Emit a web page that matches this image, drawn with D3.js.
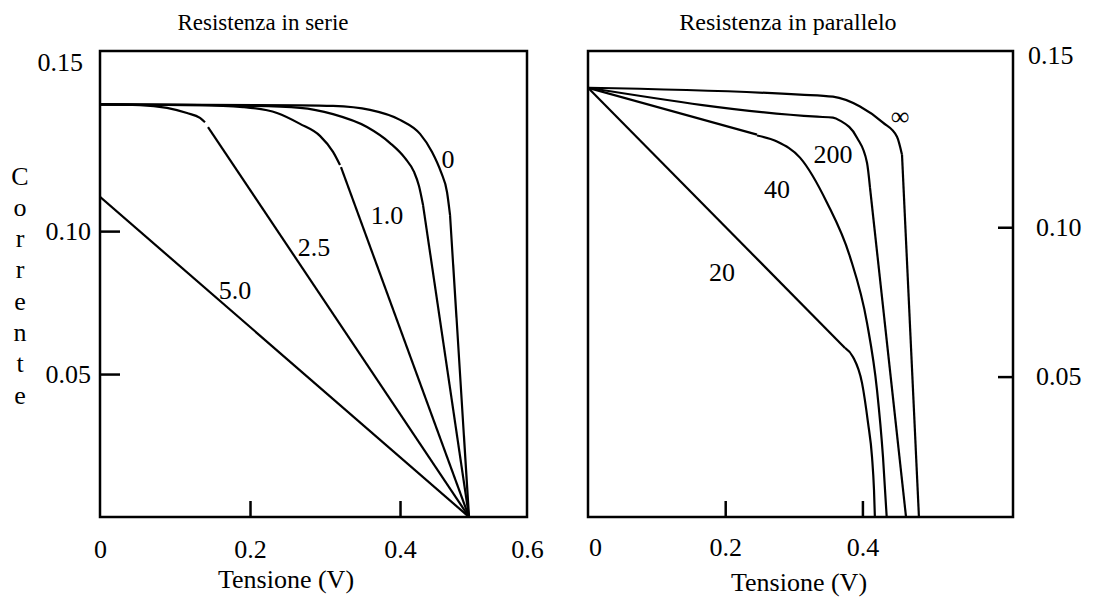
<!DOCTYPE html>
<html>
<head>
<meta charset="UTF-8">
<script src="https://d3js.org/d3.v7.min.js"></script>
<style>
    body { margin: 0; background: #fff; }
    svg { display: block; font-family: "Liberation Serif", "Times New Roman", serif; }
    .curve { fill: none; stroke: #000; stroke-width: 2.2; }
    .frame { fill: none; stroke: #000; stroke-width: 2.5; }
    .label { font-size: 26px; fill: #000; }
</style>
</head>
<body>
<svg width="1094" height="598"></svg>
<script>
// ---- data (tensione in V, corrente in A) ----
const xTickLabelsSerie = [0, 0.2, 0.4, 0.6];
const xTickLabelsPar = [0, 0.2, 0.4];
const xTickMarks = [0.2, 0.4];
const yTickLabels = [0.05, 0.10, 0.15];
const yTickMarks = [0.05, 0.10];

// left panel: series resistance, each curve = list of drawn segments
const serie50 = [[[0, 0.112], [0.492, 0]]];
const serie25 = [
    [[0, 0.1443], [0.0533, 0.1441], [0.0893, 0.1431], [0.116, 0.1413], [0.1333, 0.1396], [0.14, 0.1381]],
    [[0.144, 0.1364], [0.492, 0]]
];
const serie10 = [
    [[0, 0.1443], [0.1333, 0.1441], [0.1907, 0.1434], [0.236, 0.1413], [0.2667, 0.1375], [0.2933, 0.1333], [0.3107, 0.1277], [0.32, 0.1231]],
    [[0.3213, 0.1224], [0.492, 0]]
];
const serie05 = [
    [[0, 0.1443], [0.2, 0.1438], [0.2667, 0.1431], [0.3107, 0.1409], [0.356, 0.1364], [0.3867, 0.1308], [0.4067, 0.1255], [0.4187, 0.1207], [0.4253, 0.1158], [0.4307, 0.1091]],
    [[0.4307, 0.1091], [0.492, 0]]
];
const serie0 = [
    [[0, 0.1443], [0.2667, 0.1440], [0.3107, 0.1438], [0.36, 0.1424], [0.40, 0.1389], [0.4267, 0.1340], [0.4427, 0.1277], [0.4547, 0.1206], [0.4627, 0.1136], [0.4667, 0.1056]],
    [[0.4667, 0.1056], [0.492, 0]]
];
const serieLabels = [
    {text: "5.0", v: 0.18, i: 0.0794},
    {text: "2.5", v: 0.2853, i: 0.0941},
    {text: "1.0", v: 0.3827, i: 0.1056},
    {text: "0", v: 0.464, i: 0.1249}
];

// right panel: parallel resistance
const par20 = [
    [[0, 0.1467], [0.3746, 0.0596]],
    [[0.3746, 0.0596], [0.3863, 0.0566], [0.3994, 0.0479], [0.4082, 0.0345], [0.414, 0.0231], [0.4169, 0.012], [0.4186, 0]]
];
const par40 = [
    [[0, 0.1467], [0.2464, 0.1310]],
    [[0.2464, 0.1307], [0.2755, 0.1287], [0.309, 0.1233], [0.3484, 0.1082], [0.3819, 0.0901], [0.4067, 0.0680], [0.4213, 0.0455], [0.43, 0.0231], [0.4362, 0]]
];
const par200 = [
    [[0, 0.1467], [0.3338, 0.1370], [0.3571, 0.1367], [0.3673, 0.1357], [0.3921, 0.1300], [0.4067, 0.1216], [0.4111, 0.1132]],
    [[0.4111, 0.1132], [0.465, 0]]
];
const parInf = [
    [[0, 0.1467], [0.309, 0.1444], [0.3571, 0.1437], [0.3965, 0.1404], [0.43, 0.1350], [0.4504, 0.1303], [0.4577, 0.1243]],
    [[0.4577, 0.1243], [0.483, 0]]
];
const parLabels = [
    {text: "\u221e", v: 0.4548, i: 0.137},
    {text: "200", v: 0.3571, i: 0.1243},
    {text: "40", v: 0.2755, i: 0.1126},
    {text: "20", v: 0.1953, i: 0.0848}
];

// ---- chart ----
const svg = d3.select("svg");
svg.append("rect").attr("width", 1094).attr("height", 598).attr("fill", "#fff");

const xL = d3.scaleLinear().domain([0, 0.5693]).range([100, 527]).clamp(true);
const yL = d3.scaleLinear().domain([0, 0.163]).range([517, 51]);
const xR = d3.scaleLinear().domain([0, 0.6195]).range([588, 1013]);
const yR = d3.scaleLinear().domain([0.003, 0.159]).range([517, 51]);

function styleAxis(g) {
    g.attr("font-size", 26).attr("font-family", null);
    g.select(".domain").remove();
    g.selectAll("line").attr("stroke-width", 2.5);
}

function drawPanel(id, x, y, curves, labels) {
    const [x0, x1] = x.range();
    const [y1, y0] = y.range();
    const g = svg.append("g");

    svg.append("clipPath").attr("id", id)
        .append("rect").attr("x", x0).attr("y", y0).attr("width", x1 - x0).attr("height", y1 - y0);

    const line = d3.line()
        .x(d => x(d[0]))
        .y(d => y(d[1]))
        .curve(d3.curveMonotoneX);

    const cg = g.append("g").attr("clip-path", `url(#${id})`);
    curves.forEach(c => c.forEach(seg => {
        cg.append("path").attr("class", "curve").attr("d", line(seg));
    }));

    g.selectAll(".lbl").data(labels).enter().append("text")
        .attr("class", "label")
        .attr("x", d => x(d.v))
        .attr("y", d => y(d.i))
        .attr("text-anchor", "middle")
        .attr("dominant-baseline", "central")
        .text(d => d.text);

    // inner x tick marks
    g.append("g")
        .attr("transform", `translate(0,${y1})`)
        .call(d3.axisBottom(x).tickValues(xTickMarks).tickSizeInner(-16).tickSizeOuter(0).tickFormat(""))
        .call(styleAxis);

    g.append("rect").attr("class", "frame")
        .attr("x", x0).attr("y", y0).attr("width", x1 - x0).attr("height", y1 - y0);
    return g;
}

// left panel
const gl = drawPanel("clipL", xL, yL, [serie50, serie25, serie10, serie05, serie0], serieLabels);
gl.append("g")
    .attr("transform", "translate(0,517)")
    .call(d3.axisBottom(xL).tickValues(xTickLabelsSerie).tickSize(0).tickPadding(23)
        .tickFormat(d => d === 0 ? "0" : d3.format(".1f")(d)))
    .call(styleAxis);
gl.append("g")
    .attr("transform", "translate(100,0)")
    .call(d3.axisLeft(yL).tickValues(yTickMarks).tickSizeInner(-20).tickSizeOuter(0).tickFormat(""))
    .call(styleAxis);
gl.append("g")
    .attr("transform", "translate(100,0)")
    .call(d3.axisLeft(yL).tickValues(yTickLabels).tickSize(0).tickPadding(9).tickFormat(d3.format(".2f")))
    .call(styleAxis)
    .call(g => g.selectAll(".tick text").filter(d => d === 0.15).attr("y", -26).attr("x", -17));

// right panel
const gr = drawPanel("clipR", xR, yR, [par20, par40, par200, parInf], parLabels);
gr.append("g")
    .attr("transform", "translate(0,517)")
    .call(d3.axisBottom(xR).tickValues(xTickLabelsPar).tickSize(0).tickPadding(21)
        .tickFormat(d => d === 0 ? "0" : d3.format(".1f")(d)))
    .call(styleAxis)
    .call(g => g.selectAll(".tick text").filter(d => d === 0).attr("x", 7));
gr.append("g")
    .attr("transform", "translate(1013,0)")
    .call(d3.axisRight(yR).tickValues(yTickMarks).tickSizeInner(-15).tickSizeOuter(0).tickFormat(""))
    .call(styleAxis);
gr.append("g")
    .attr("transform", "translate(1013,0)")
    .call(d3.axisRight(yR).tickValues(yTickLabels).tickSize(0).tickPadding(23).tickFormat(d3.format(".2f")))
    .call(styleAxis)
    .call(g => g.selectAll(".tick text").filter(d => d === 0.15).attr("y", -23).attr("x", 15));

// titles
svg.append("text").attr("class", "label").attr("x", 263).attr("y", 30)
    .attr("text-anchor", "middle").style("font-size", "23px").text("Resistenza in serie");
svg.append("text").attr("class", "label").attr("x", 788).attr("y", 30)
    .attr("text-anchor", "middle").style("font-size", "24px").text("Resistenza in parallelo");
svg.append("text").attr("class", "label").attr("x", 286).attr("y", 588)
    .attr("text-anchor", "middle").text("Tensione (V)");
svg.append("text").attr("class", "label").attr("x", 799).attr("y", 591)
    .attr("text-anchor", "middle").text("Tensione (V)");

// vertical y label
const yLetters = "Corrente".split("");
const letterY = d3.scalePoint().domain(d3.range(yLetters.length)).range([176, 395]);
svg.append("g").selectAll("text").data(yLetters).enter().append("text")
    .attr("class", "label")
    .attr("x", 20)
    .attr("y", (d, k) => letterY(k))
    .attr("text-anchor", "middle")
    .attr("dominant-baseline", "central")
    .text(d => d);
</script>
</body>
</html>
